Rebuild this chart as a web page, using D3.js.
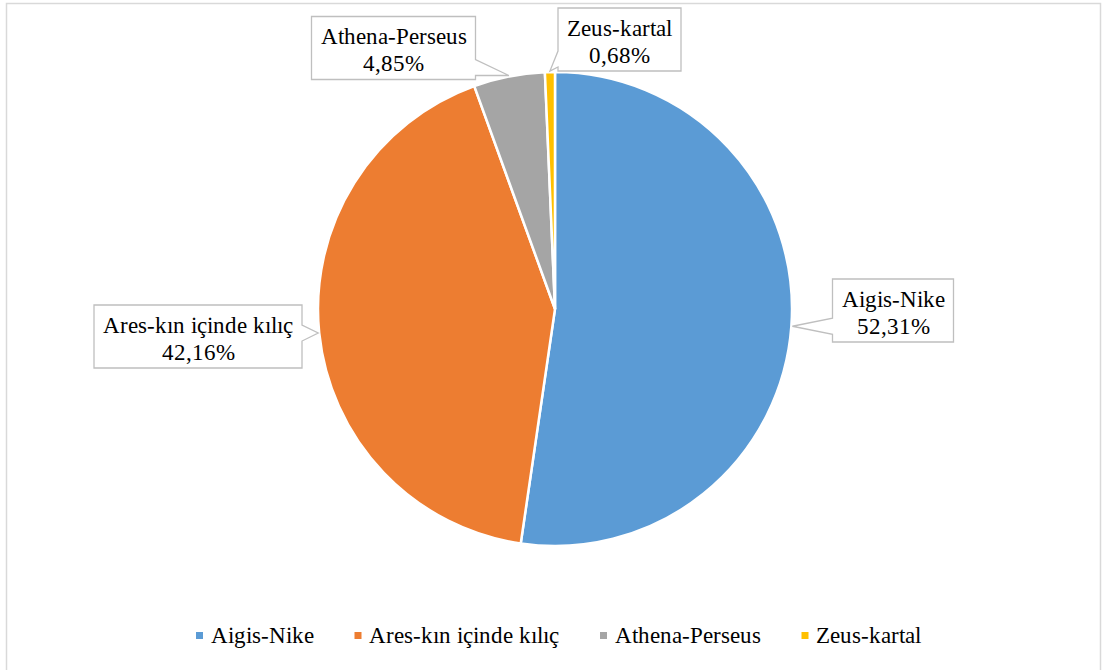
<!DOCTYPE html>
<html>
<head>
<meta charset="utf-8">
<script src="https://cdn.jsdelivr.net/npm/d3@7"></script>
<style>
  @font-face {
    font-family: "ChartSerif";
    src: local("Liberation Serif"), local("LiberationSerif"), local("LiberationSerif-Regular"),
         local("Times New Roman"), local("TimesNewRomanPSMT"), local("Tinos"), local("Tinos-Regular");
  }
  body { margin: 0; background: #fff; }
</style>
</head>
<body>
<div class="chart-container"></div>
<script>
const categories = ["Aigis-Nike", "Ares-kın içinde kılıç", "Athena-Perseus", "Zeus-kartal"];
const values = [52.31, 42.16, 4.85, 0.68];
const colors = ["#5B9BD5", "#ED7D31", "#A5A5A5", "#FFC000"];

// where each callout box sits (centre), same order as categories
const calloutCenters = [[893, 310.5], [198, 336.5], [393.5, 48], [619.5, 39.5]];

const width = 1103, height = 670;
const cx = 555, cy = 309, radius = 237;
const fontSize = 23;
const fontFamily = "ChartSerif, 'DejaVu Serif', serif";

const svg = d3.select(".chart-container").append("svg")
  .attr("width", width)
  .attr("height", height);

// chart frame
svg.append("rect")
  .attr("x", 6.5).attr("y", 3.5)
  .attr("width", 1094).attr("height", 680)
  .attr("fill", "#fff")
  .attr("stroke", "#D9D9D9")
  .attr("stroke-width", 1.5);

const data = categories.map((c, i) => ({ name: c, value: values[i], color: colors[i] }));

const pie = d3.pie().sort(null).value(d => d.value);
const arcs = pie(data);
const arc = d3.arc().innerRadius(0).outerRadius(radius);

const pieGroup = svg.append("g").attr("transform", `translate(${cx}, ${cy})`);

pieGroup.selectAll(".slice")
  .data(arcs)
  .enter()
  .append("path")
  .attr("class", "slice")
  .attr("d", arc)
  .attr("fill", d => d.data.color)
  .attr("stroke", "#fff")
  .attr("stroke-width", 2.5);

const fmt = v => d3.format(".2f")(v).replace(".", ",") + "%";

function draw() {
  // callouts
  const labelGroup = svg.append("g");
  arcs.forEach((a, i) => {
    const mid = (a.startAngle + a.endAngle) / 2;
    const tip = [cx + Math.sin(mid) * (radius + 1), cy - Math.cos(mid) * (radius + 1)];
    const [bx, by] = calloutCenters[i];

    const g = labelGroup.append("g");
    const path = g.append("path");
    const t1 = g.append("text")
      .attr("x", bx).attr("y", by - 4)
      .attr("text-anchor", "middle")
      .style("font-family", fontFamily)
      .style("font-size", fontSize + "px")
      .text(a.data.name);
    g.append("text")
      .attr("x", bx).attr("y", by + 23)
      .attr("text-anchor", "middle")
      .style("font-family", fontFamily)
      .style("font-size", fontSize + "px")
      .text(fmt(a.data.value));

    const w = t1.node().getComputedTextLength() + 18;
    const h = 63;
    const left = bx - w / 2, right = bx + w / 2, top = by - h / 2, bottom = by + h / 2;
    const hw = 8;
    let pts;
    if (tip[0] < left) {
      const c = Math.max(top + hw, Math.min(bottom - 12, tip[1]));
      pts = [[left, top], [right, top], [right, bottom], [left, bottom], [left, c + hw], tip, [left, c - hw]];
    } else if (tip[0] > right) {
      const c = Math.max(top + hw, Math.min(bottom - 12, tip[1]));
      pts = [[left, top], [right, top], [right, c - hw], tip, [right, c + hw], [right, bottom], [left, bottom]];
    } else {
      pts = [[left, top], [right, top], [right, bottom], [left, bottom]];
    }
    path.attr("d", d3.line()(pts) + "Z")
      .attr("fill", "#fff")
      .attr("stroke", "#BFBFBF")
      .attr("stroke-width", 1.3);
  });

  // legend
  const legend = svg.append("g");
  let lx = 196;
  const ly = 635.5;
  data.forEach(d => {
    legend.append("rect")
      .attr("x", lx).attr("y", ly - 3.5)
      .attr("width", 7).attr("height", 7)
      .attr("fill", d.color);
    const t = legend.append("text")
      .attr("x", lx + 14.5).attr("y", ly + 7.5)
      .style("font-family", fontFamily)
      .style("font-size", fontSize + "px")
      .text(d.name);
    lx += 14.5 + t.node().getComputedTextLength() + 41;
  });
}

if (document.fonts && document.fonts.load) {
  document.fonts.load(fontSize + "px ChartSerif").then(draw, draw);
} else {
  draw();
}
</script>
</body>
</html>
